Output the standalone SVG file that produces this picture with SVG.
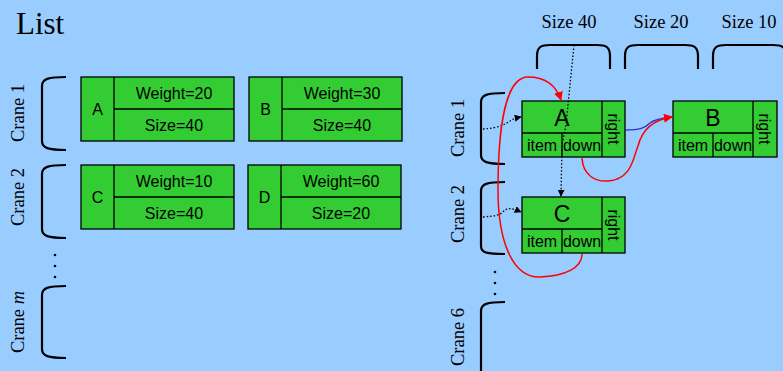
<svg xmlns="http://www.w3.org/2000/svg" width="783" height="371" viewBox="0 0 783 371">
<defs>
<style>
.box{fill:#33cc33;stroke:#000;stroke-width:1.3}
.ln{stroke:#000;stroke-width:1.3;fill:none}
.br{fill:none;stroke:#000;stroke-width:2.2}
.t{font-family:"Liberation Sans",Arial,sans-serif;font-size:16px;fill:#000;text-anchor:middle}
.big{font-size:23px}
.s{font-family:"Liberation Serif","Times New Roman",serif;fill:#000;text-anchor:middle}
.dot{fill:none;stroke:#000;stroke-width:1.3;stroke-dasharray:1.5 2}
.red{fill:none;stroke:#ff0000;stroke-width:1.5}
.blue{fill:none;stroke:#3333cc;stroke-width:1.5}
</style>
<marker id="ab" viewBox="0 0 10 10" refX="9" refY="5" markerWidth="7" markerHeight="7" orient="auto" markerUnits="userSpaceOnUse"><path d="M0,0 L10,5 L0,10 z" fill="#000"/></marker>
<marker id="ar" viewBox="0 0 10 10" refX="9" refY="5" markerWidth="9" markerHeight="9" orient="auto" markerUnits="userSpaceOnUse"><path d="M0,0 L10,5 L0,10 z" fill="#ff0000"/></marker>
</defs>
<rect width="783" height="371" fill="#99ccff"/>
<text x="16" y="34" font-family="Liberation Serif,serif" font-size="31" fill="#000">List</text>

<!-- Left side -->
<g id="left-crane1">
<path class="br" d="M66,77 C48,77 42,79 42,86 L42,141 C42,148 48,150 66,150"/>
<text class="s" font-size="18.5" transform="translate(24,113) rotate(-90)">Crane 1</text>
</g>
<g id="left-crane2">
<path class="br" d="M66,165 C48,165 42,167 42,174 L42,229 C42,236 48,238 66,238"/>
<text class="s" font-size="18.5" transform="translate(24,197) rotate(-90)">Crane 2</text>
</g>
<g id="left-dots">
<circle cx="55" cy="255" r="1.3"/><circle cx="55" cy="266" r="1.3"/><circle cx="55" cy="277" r="1.3"/>
</g>
<g id="left-cranem">
<path class="br" d="M66,286 C48,286 42,288 42,295 L42,349 C42,356 48,358 66,358"/>
<text class="s" font-size="18.5" transform="translate(24,322) rotate(-90)">Crane <tspan font-style="italic">m</tspan></text>
</g>

<g id="item-A">
<rect class="box" x="81" y="77" width="153" height="64"/>
<line class="ln" x1="114" y1="77" x2="114" y2="141"/>
<line class="ln" x1="114" y1="109" x2="234" y2="109"/>
<text class="t" x="97.5" y="115">A</text>
<text class="t" x="174" y="99">Weight=20</text>
<text class="t" x="174" y="131">Size=40</text>
</g>
<g id="item-B">
<rect class="box" x="249" y="77" width="153" height="64"/>
<line class="ln" x1="282" y1="77" x2="282" y2="141"/>
<line class="ln" x1="282" y1="109" x2="402" y2="109"/>
<text class="t" x="265.5" y="115">B</text>
<text class="t" x="342" y="99">Weight=30</text>
<text class="t" x="342" y="131">Size=40</text>
</g>
<g id="item-C">
<rect class="box" x="81" y="165" width="153" height="64"/>
<line class="ln" x1="114" y1="165" x2="114" y2="229"/>
<line class="ln" x1="114" y1="197" x2="234" y2="197"/>
<text class="t" x="97.5" y="203">C</text>
<text class="t" x="174" y="187">Weight=10</text>
<text class="t" x="174" y="219">Size=40</text>
</g>
<g id="item-D">
<rect class="box" x="248" y="165" width="153" height="64"/>
<line class="ln" x1="281" y1="165" x2="281" y2="229"/>
<line class="ln" x1="281" y1="197" x2="401" y2="197"/>
<text class="t" x="264.5" y="203">D</text>
<text class="t" x="341" y="187">Weight=60</text>
<text class="t" x="341" y="219">Size=20</text>
</g>

<!-- Right side -->
<g id="size40">
<text class="s" font-size="18.5" x="569" y="28">Size 40</text>
<path class="br" d="M537,69 L537,56 C537,47 541,45 550,45 L597,45 C606,45 610,47 610,56 L610,69"/>
</g>
<g id="size20">
<text class="s" font-size="18.5" x="661" y="28">Size 20</text>
<path class="br" d="M625,69 L625,56 C625,47 629,45 638,45 L685,45 C694,45 698,47 698,56 L698,69"/>
</g>
<g id="size10">
<text class="s" font-size="18.5" x="749" y="28">Size 10</text>
<path class="br" d="M713,69 L713,56 C713,47 717,45 726,45 L773,45 C782,45 786,47 786,56 L786,69"/>
</g>

<g id="right-crane1">
<path class="br" d="M505,93 C487,93 481,95 481,102 L481,155 C481,162 487,164 505,164"/>
<text class="s" font-size="18.5" transform="translate(464,128) rotate(-90)">Crane 1</text>
</g>
<g id="right-crane2">
<path class="br" d="M505,182 C487,182 481,184 481,191 L481,246 C481,253 487,254 505,254"/>
<text class="s" font-size="18.5" transform="translate(464,214) rotate(-90)">Crane 2</text>
</g>
<g id="right-dots">
<circle cx="495" cy="272" r="1.3"/><circle cx="495" cy="283" r="1.3"/><circle cx="495" cy="294" r="1.3"/>
</g>
<g id="right-crane6">
<path class="br" d="M505,302 C487,302 481,304 481,311 L481,380"/>
<text class="s" font-size="18.5" transform="translate(464,337) rotate(-90)">Crane 6</text>
</g>

<g id="node-A">
<rect class="box" x="522" y="101" width="103" height="56"/>
<line class="ln" x1="602" y1="101" x2="602" y2="157"/>
<line class="ln" x1="522" y1="133" x2="602" y2="133"/>
<line class="ln" x1="562" y1="133" x2="562" y2="157"/>
<text class="t big" x="562" y="126">A</text>
<text class="t" x="542" y="151">item</text>
<text class="t" x="582" y="151">down</text>
<text class="t" transform="translate(608,129) rotate(90)">right</text>
</g>
<g id="node-B">
<rect class="box" x="673" y="101" width="104" height="56"/>
<line class="ln" x1="753" y1="101" x2="753" y2="157"/>
<line class="ln" x1="673" y1="133" x2="753" y2="133"/>
<line class="ln" x1="713" y1="133" x2="713" y2="157"/>
<text class="t big" x="713" y="126">B</text>
<text class="t" x="693" y="151">item</text>
<text class="t" x="733" y="151">down</text>
<text class="t" transform="translate(759,129) rotate(90)">right</text>
</g>
<g id="node-C">
<rect class="box" x="522" y="197" width="103" height="56"/>
<line class="ln" x1="602" y1="197" x2="602" y2="253"/>
<line class="ln" x1="522" y1="229" x2="602" y2="229"/>
<line class="ln" x1="562" y1="229" x2="562" y2="253"/>
<text class="t big" x="562" y="222">C</text>
<text class="t" x="542" y="247">item</text>
<text class="t" x="582" y="247">down</text>
<text class="t" transform="translate(608,225) rotate(90)">right</text>
</g>

<g id="connectors">
<path class="dot" d="M483,129 C500,128 505,124 510,121 C513,119 516,118 521,117" marker-end="url(#ab)"/>
<path class="dot" d="M483,217 C495,216 500,215 503,212 C507,207 512,208 521,212" marker-end="url(#ab)"/>
<path class="dot" d="M574,45 L566,125 L562,145 L561,196" marker-end="url(#ab)"/>
<path class="blue" d="M625,130 C640,130 645,128 650,123 C655,119 662,118 672,117"/>
<path class="red" d="M582,158 C583,175 595,182 608,181 C632,179 633,158 638,146 C642,130 652,120 672,117" marker-end="url(#ar)"/>
<path class="red" d="M582,254 C582,268 565,276 540,277 C512,278 498,240 498,190 C498,130 505,77 528,77 C545,77 556,85 561,100" marker-end="url(#ar)"/>
</g>
</svg>
